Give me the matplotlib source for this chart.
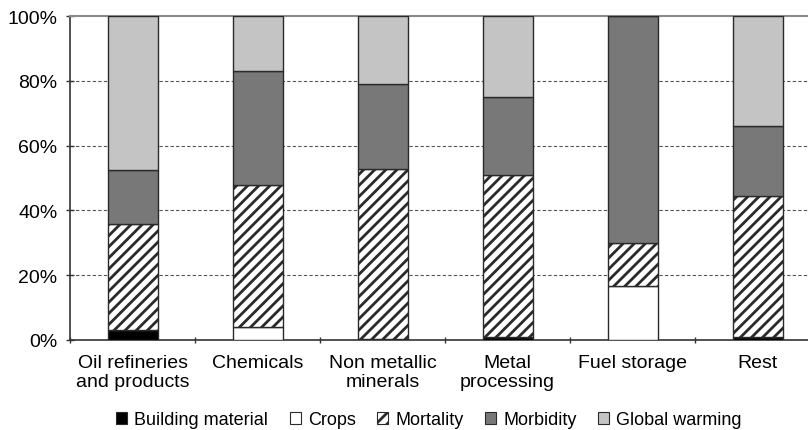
import matplotlib
matplotlib.use("Agg")
import matplotlib.pyplot as plt
from matplotlib.patches import Patch
import numpy as np

plt.rcParams['font.family'] = ['Liberation Sans', 'DejaVu Sans']
plt.rcParams['hatch.linewidth'] = 2.0
plt.rcParams['hatch.color'] = '#1a1a1a'

# Share of impact per sector (%), stacked bottom to top
sectors = ["Oil refineries\nand products", "Chemicals", "Non metallic\nminerals",
           "Metal\nprocessing", "Fuel storage", "Rest"]
building_material = [3.0, 0.0, 0.3, 0.8, 0.0, 0.8]
crops = [0.0, 4.0, 0.0, 0.0, 16.7, 0.0]
mortality = [32.8, 43.8, 52.5, 50.0, 13.3, 43.7]
morbidity = [16.7, 35.2, 26.2, 24.2, 70.0, 21.5]
global_warming = [47.5, 17.0, 21.0, 25.0, 0.0, 34.0]

series = [
    ("Building material", building_material, dict(facecolor='black')),
    ("Crops", crops, dict(facecolor='white')),
    ("Mortality", mortality, dict(facecolor='white', hatch='///')),
    ("Morbidity", morbidity, dict(facecolor='#787878')),
    ("Global warming", global_warming, dict(facecolor='#c4c4c4')),
]

fig = plt.figure(figsize=(8.08, 4.31), dpi=100)
ax = fig.add_axes([70 / 808, 1 - 341 / 431, 750 / 808, 324 / 431])

x = np.arange(len(sectors))
bottom = np.zeros(len(sectors))
handles = []
for name, vals, style in series:
    vals = np.array(vals)
    ax.bar(x, vals, width=0.4, bottom=bottom, edgecolor='#2a2a2a',
           linewidth=1.0, zorder=3, **style)
    bottom += vals
    handles.append(Patch(edgecolor='#2a2a2a', linewidth=0.8, label=name, **style))

ax.set_xlim(-0.5, len(sectors) - 0.5)
ax.set_ylim(0, 100)
ax.set_yticks(range(0, 101, 20))
ax.set_yticklabels([f"{v}%" for v in range(0, 101, 20)])
for v in range(20, 100, 20):
    ax.axhline(v, color='#555555', linestyle=(0, (3, 2)), linewidth=0.8, zorder=1)

ax.set_xticks(x)
ax.set_xticklabels(sectors, va='top')
ax.set_xticks(np.arange(-0.5, len(sectors)), minor=True)
ax.tick_params(axis='x', which='major', length=0, pad=10, labelsize=14)
ax.tick_params(axis='x', which='minor', length=5, direction='inout', width=1, color='#333333')
ax.tick_params(axis='y', length=6, direction='inout', width=1, color='#333333',
               pad=6, labelsize=14)

for s in ['left', 'bottom']:
    ax.spines[s].set_color('#333333')
    ax.spines[s].set_linewidth(1.2)
ax.spines['right'].set_visible(False)
ax.spines['top'].set_color('#8a8a8a')
ax.spines['top'].set_linewidth(1.5)

fig.legend(handles=handles, loc='center', bbox_to_anchor=(429 / 808, 1 - 421 / 431),
           ncol=5, frameon=False, fontsize=13, handlelength=0.6, handleheight=0.6,
           handletextpad=0.4, columnspacing=1.2, borderpad=0)

fig.savefig("out.png", dpi=100)
